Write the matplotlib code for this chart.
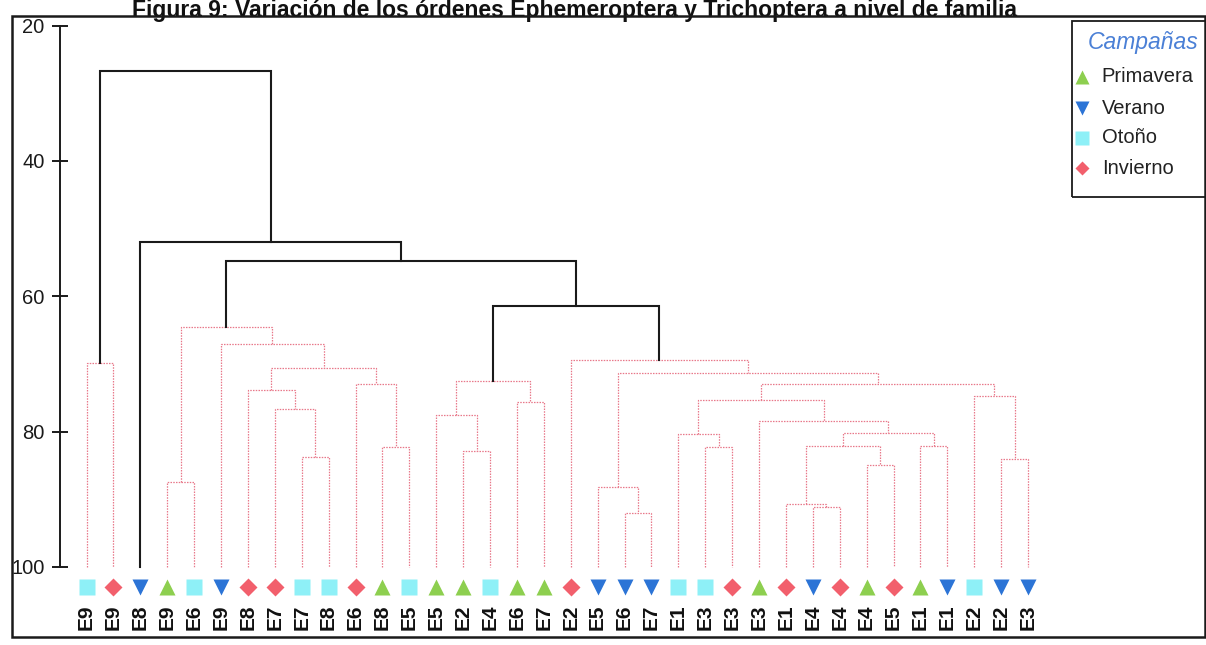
import matplotlib
matplotlib.use("Agg")
import matplotlib.pyplot as plt
from matplotlib.patches import Rectangle
from matplotlib.lines import Line2D

plt.rcParams['font.family'] = ['Liberation Sans', 'DejaVu Sans']

# ---------------- data ----------------
leaf_labels = ["E9", "E9", "E8", "E9", "E6", "E9", "E8", "E7", "E7", "E8", "E6", "E8",
               "E5", "E5", "E2", "E4", "E6", "E7", "E2", "E5", "E6", "E7", "E1", "E3",
               "E3", "E3", "E1", "E4", "E4", "E4", "E5", "E1", "E1", "E2", "E2", "E3"]
leaf_seasons = ["Otoño", "Invierno", "Verano", "Primavera", "Otoño", "Verano", "Invierno",
                "Invierno", "Otoño", "Otoño", "Invierno", "Primavera", "Otoño", "Primavera",
                "Primavera", "Otoño", "Primavera", "Primavera", "Invierno", "Verano", "Verano",
                "Verano", "Otoño", "Otoño", "Invierno", "Primavera", "Invierno", "Verano",
                "Invierno", "Primavera", "Invierno", "Primavera", "Verano", "Otoño", "Verano",
                "Verano"]
# merges: (child a, child b, similarity); new cluster ids start at 36
merge_a = [27, 26, 20, 19, 3, 29, 34, 8, 14, 11, 23, 37, 31, 22, 47, 25, 13, 7, 16, 49,
           33, 6, 10, 55, 52, 57, 0, 39, 18, 5, 40, 60, 66, 2, 62]
merge_b = [28, 36, 21, 38, 4, 30, 35, 9, 15, 12, 24, 41, 32, 46, 48, 50, 44, 43, 17, 51,
           42, 53, 45, 56, 54, 58, 1, 59, 63, 61, 65, 64, 67, 68, 69]
merge_sim = [91.2, 90.7, 92.0, 88.2, 87.5, 84.9, 84.0, 83.7, 82.9, 82.3, 82.3, 82.1, 82.1,
             80.3, 80.2, 78.4, 77.5, 76.6, 75.6, 75.4, 74.8, 73.9, 72.9, 72.9, 72.5, 70.6,
             69.8, 71.3, 69.4, 67.1, 64.6, 61.4, 54.8, 52.0, 26.7]
season_names = ["Primavera", "Verano", "Otoño", "Invierno"]
yticks = [20, 40, 60, 80, 100]
title = "Figura 9: Variación de los órdenes Ephemeroptera y Trichoptera a nivel de familia"

# ---------------- styles ----------------
season_style = {
    "Primavera": dict(marker="^", color="#8dcf4f", ms=12),
    "Verano": dict(marker="v", color="#2c74d6", ms=12),
    "Otoño": dict(marker="s", color="#8ef0f7", ms=12),
    "Invierno": dict(marker="D", color="#f25f6c", ms=9.5),
}
threshold = 63.0
W, H = 1206, 645
fig = plt.figure(figsize=(W / 100, H / 100), dpi=100)
ax = fig.add_axes([0, 0, 1, 1])

# pixel mapping
x0px, dxpx = 86.5, 26.9
y20px, y100px = 25.5, 567.0
pxu = (y100px - y20px) / 80.0
ax.set_xlim((0 - x0px) / dxpx, (W - x0px) / dxpx)
ax.set_ylim(20 + (H - y20px) / pxu, 20 + (0 - y20px) / pxu)

# ---------------- dendrogram ----------------
n = len(leaf_labels)
xpos = {i: float(i) for i in range(n)}
hpos = {i: 100.0 for i in range(n)}
for k, (a, b, s) in enumerate(zip(merge_a, merge_b, merge_sim)):
    cid = n + k
    xpos[cid] = (xpos[a] + xpos[b]) / 2
    hpos[cid] = s
    xs = [xpos[a], xpos[a], xpos[b], xpos[b]]
    ys = [hpos[a], s, s, hpos[b]]
    if s > threshold:
        ax.plot(xs, ys, color="#e8788a", lw=0.9, ls=(0, (1.2, 1.0)), zorder=2)
    else:
        ax.plot(xs, ys, color="#1a1a1a", lw=1.5, solid_joinstyle="miter", zorder=3)

# leaf markers and labels
y_marker = 20 + (586.7 - y20px) / pxu
y_label = 20 + (617.0 - y20px) / pxu
for i, (lab, sea) in enumerate(zip(leaf_labels, leaf_seasons)):
    st = season_style[sea]
    ax.plot([i], [y_marker], ls="none", marker=st["marker"], color=st["color"],
            ms=st["ms"], mec="none", zorder=4, clip_on=False)
    ax.text(i, y_label, lab, rotation=90, ha="center", va="center",
            fontsize=15, fontweight="bold", color="#111111")

# ---------------- axis ----------------
for side in ["top", "right", "bottom"]:
    ax.spines[side].set_visible(False)
ax.spines["left"].set_position(("data", (60 - x0px) / dxpx))
ax.spines["left"].set_bounds(20, 100)
ax.spines["left"].set_linewidth(1.4)
ax.spines["left"].set_color("#1a1a1a")
ax.set_xticks([])
ax.set_yticks(yticks)
ax.tick_params(axis="y", direction="inout", length=12, width=1.4, labelsize=14.5,
               pad=5, colors="#1a1a1a")
ax.patch.set_alpha(0)

# outer frame
fig.patches.append(Rectangle((12 / W, 1 - 637 / H), (1205 - 12) / W, (637 - 16) / H,
                             transform=fig.transFigure, fill=False, lw=1.8,
                             edgecolor="#1a1a1a", zorder=10))

# title
fig.text(575 / W, 1 - 17 / H, title, ha="center", va="baseline", fontsize=16.5,
         fontweight="bold", color="#111111")

# ---------------- legend ----------------
fig.patches.append(Rectangle((1071.7 / W, 1 - 196.7 / H), (1215 - 1071.7) / W,
                             (196.7 - 20.7) / H, transform=fig.transFigure,
                             fill=False, lw=1.3, edgecolor="#1a1a1a", zorder=10))
fig.text(1088 / W, 1 - 43 / H, "Campañas", ha="left", va="center", fontsize=16.5,
         style="italic", color="#4b80d6")
leg_y = [76.7, 108.3, 137.7, 168.3]
for name, yy in zip(season_names, leg_y):
    st = season_style[name]
    fig.add_artist(Line2D([1081.7 / W], [1 - yy / H], transform=fig.transFigure,
                          ls="none", marker=st["marker"], color=st["color"],
                          ms=st["ms"] * 0.8, mec="none"))
    fig.text(1101.7 / W, 1 - yy / H, name, ha="left", va="center", fontsize=14.5,
             color="#222222")

fig.savefig("out.png", dpi=100)
